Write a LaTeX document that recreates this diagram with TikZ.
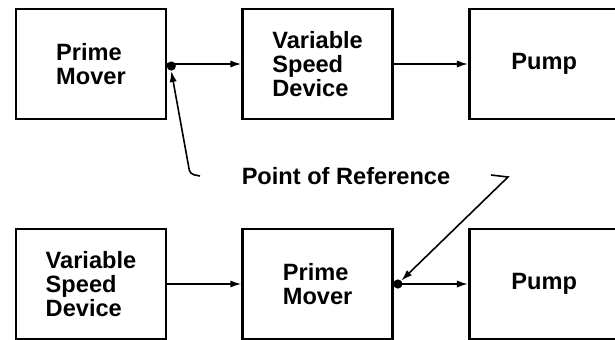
\documentclass[tikz,border=0pt]{standalone}
\usepackage{fontspec}
\setmainfont{Liberation Sans}
\usetikzlibrary{positioning,arrows.meta}

\begin{document}
\begin{tikzpicture}[
  x=0.5pt, y=-0.5pt,
  node distance=37pt,
  box/.style={draw, line width=1.3pt, align=left, minimum width=75pt,
              minimum height=55pt, inner sep=0pt,
              font=\fontsize{11.8}{11.8}\selectfont\bfseries},
  arrow/.style={-{Latex[length=5.5pt,width=3.6pt]}, line width=0.8pt},
  label/.style={font=\fontsize{11.8}{12}\selectfont\bfseries},
  pt/.style={circle, fill, inner sep=0pt, minimum size=4.6pt}
]
\useasboundingbox (0,0) rectangle (615,339);
% driver first
\node[box] (pmA) at (91,64) {Prime\\Mover};
\node[box, right=of pmA] (vsdA) {Variable\\Speed\\Device};
\node[box, right=of vsdA] (pumpA) {Pump};
% speed device first
\node[box] (vsdB) at (91,284) {Variable\\Speed\\Device};
\node[box, right=of vsdB] (pmB) {Prime\\Mover};
\node[box, right=of pmB] (pumpB) {Pump};
\draw[arrow] (pmA) -- (vsdA);
\draw[arrow] (vsdA) -- (pumpA);
\draw[arrow] (vsdB) -- (pmB);
\draw[arrow] (pmB) -- (pumpB);
% reference points
\node[pt] (refA) at ([xshift=2pt,yshift=-1pt]pmA.east) {};
\node[pt] (refB) at ([xshift=2pt]pmB.east) {};
\node[label] (ref) at (346,176) {Point of Reference};
\coordinate (tailA) at (200,176);
\coordinate (tailB) at (491,175);
\draw[arrow, rounded corners=2pt] (tailA) -- (190,174) -- (refA.south);
\draw[arrow] (tailB) -- (508,177) -- (refB.north east);
\end{tikzpicture}
\end{document}
